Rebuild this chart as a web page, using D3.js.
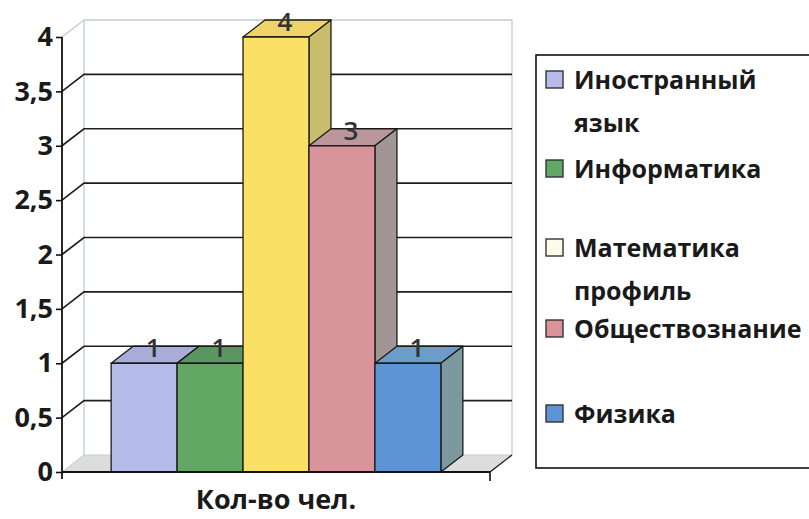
<!DOCTYPE html>
<html>
<head>
<meta charset="utf-8">
<script src="https://cdn.jsdelivr.net/npm/d3@7"></script>
<style>
  html, body { margin: 0; padding: 0; background: #fff; }
  svg { display: block; }
</style>
</head>
<body>
<svg id="chart" width="809" height="519"></svg>
<script>
// series shown as bars in one category group
const subjects = ["Иностранный язык", "Информатика", "Математика профиль", "Обществознание", "Физика"]
const counts = [1, 1, 4, 3, 1]
// legend text split into lines like the original
const legendLines = [["Иностранный", "язык"], ["Информатика"], ["Математика", "профиль"], ["Обществознание"], ["Физика"]]
const frontColors = ["#b6bce9", "#62a763", "#fbe066", "#d9949b", "#5d94d6"]
const topColors = ["#a7acd9", "#5a9760", "#eed468", "#bb979b", "#6c9cc8"]
const sideColors = ["#9aa0cc", "#4f8557", "#c9bd6b", "#a29596", "#7b999e"]
const legendColors = ["#b6bce9", "#62a763", "#fffbea", "#d9949b", "#5d94d6"]
const yTicks = [0, 0.5, 1, 1.5, 2, 2.5, 3, 3.5, 4]
const categoryLabel = "Кол-во чел."

const font = "'Open Sans', 'DejaVu Sans', sans-serif"
const svg = d3.select("#chart")

// depth offset of the 3d box
const dx = 22, dy = -17
const x0 = 62, x1 = 490

const y = d3.scaleLinear().domain([0, 4]).range([472, 37])
const x = d3.scaleBand().domain(subjects).range([x0, x1]).paddingInner(0).paddingOuter(0.745)

const fmt = (v) => String(v).replace(".", ",")

// floor
svg.append("path")
  .attr("d", `M${x0},${y(0)} L${x1},${y(0)} L${x1 + dx},${y(0) + dy} L${x0 + dx},${y(0) + dy} Z`)
  .attr("fill", "#dcdedd")
  .attr("stroke", "#c8cac9")
  .attr("stroke-width", 1)

// back wall outline (light)
svg.append("path")
  .attr("d", `M${x0 + dx},${y(0) + dy} L${x0 + dx},${y(4) + dy} L${x1 + dx},${y(4) + dy} L${x1 + dx},${y(0) + dy}`)
  .attr("fill", "none")
  .attr("stroke", "#c4cbd2")
  .attr("stroke-width", 1.3)
svg.append("line")
  .attr("x1", x0).attr("y1", y(4)).attr("x2", x0 + dx).attr("y2", y(4) + dy)
  .attr("stroke", "#c4cbd2").attr("stroke-width", 1.3)

// gridlines: side wall diagonal + back wall
const grid = svg.append("g").attr("stroke", "#1e1e1e").attr("stroke-width", 1.6).attr("fill", "none")
yTicks.filter((t) => t > 0 && t < 4).forEach((t) => {
  grid.append("path")
    .attr("d", `M${x0},${y(t)} L${x0 + dx},${y(t) + dy} L${x1 + dx},${y(t) + dy}`)
})

// floor right edge
svg.append("line")
  .attr("x1", x1).attr("y1", y(0)).attr("x2", x1 + dx).attr("y2", y(0) + dy)
  .attr("stroke", "#1e1e1e").attr("stroke-width", 1.3)

// bars, left to right so each front face covers the previous side face
const bars = svg.append("g").attr("stroke", "#1a1a1a").attr("stroke-width", 1.3).attr("stroke-linejoin", "round")
subjects.forEach((s, i) => {
  const l = x(s), r = x(s) + x.bandwidth()
  const t = y(counts[i]), b = y(0)
  const g = bars.append("g")
  g.append("path")
    .attr("d", `M${l},${t} L${l + dx},${t + dy} L${r + dx},${t + dy} L${r},${t} Z`)
    .attr("fill", topColors[i])
  g.append("path")
    .attr("d", `M${r},${t} L${r + dx},${t + dy} L${r + dx},${b + dy} L${r},${b} Z`)
    .attr("fill", sideColors[i])
  g.append("rect")
    .attr("x", l).attr("y", t).attr("width", r - l).attr("height", b - t)
    .attr("fill", frontColors[i])
})

// data labels
svg.append("g")
  .selectAll("text")
  .data(subjects)
  .join("text")
  .attr("x", (s) => x(s) + x.bandwidth() / 2 + dx / 2 - 2)
  .attr("y", (s, i) => y(counts[i]) - 6)
  .attr("text-anchor", "middle")
  .attr("font-family", font)
  .attr("font-size", 26)
  .attr("font-weight", 600)
  .attr("fill", "#333")
  .text((s, i) => counts[i])

// front baseline
svg.append("line")
  .attr("x1", x0).attr("y1", y(0)).attr("x2", x1).attr("y2", y(0))
  .attr("stroke", "#111").attr("stroke-width", 1.8)
svg.append("line")
  .attr("x1", x1).attr("y1", y(0)).attr("x2", x1).attr("y2", y(0) + 9)
  .attr("stroke", "#111").attr("stroke-width", 1.6)

// y axis
const yAxis = svg.append("g")
  .attr("transform", `translate(${x0},0)`)
  .call(d3.axisLeft(y).tickValues(yTicks).tickFormat(fmt).tickSize(6).tickPadding(3).tickSizeOuter(0))
yAxis.select(".domain").attr("stroke", "#111").attr("stroke-width", 1.8)
  .attr("d", `M0,${y(4)}V${y(0) + 7}`)
yAxis.selectAll(".tick line").attr("stroke", "#111").attr("stroke-width", 1.6)
yAxis.selectAll("text")
  .attr("font-family", font)
  .attr("font-size", 27)
  .attr("font-weight", 700)
  .attr("fill", "#1a1a1a")

// category label
svg.append("text")
  .attr("x", 276).attr("y", 509)
  .attr("text-anchor", "middle")
  .attr("font-family", font)
  .attr("font-size", 27)
  .attr("font-weight", 700)
  .attr("fill", "#1a1a1a")
  .text(categoryLabel)

// legend box runs off the right edge like in the picture
svg.append("rect")
  .attr("x", 536).attr("y", 55).attr("width", 300).attr("height", 413)
  .attr("fill", "#fff").attr("stroke", "#111").attr("stroke-width", 1.6)

const legendY = [79, 168, 247, 328, 413]
const lg = svg.append("g")
legendLines.forEach((lines, i) => {
  const cy = legendY[i]
  lg.append("rect")
    .attr("x", 546).attr("y", cy - 8).attr("width", 17).attr("height", 17)
    .attr("fill", legendColors[i]).attr("stroke", "#333").attr("stroke-width", 1.4)
  lines.forEach((line, j) => {
    lg.append("text")
      .attr("x", 574).attr("y", cy + 10 + j * 43)
      .attr("font-family", font)
      .attr("font-size", 25)
      .attr("font-weight", 700)
      .attr("fill", "#1a1a1a")
      .text(line)
  })
})
</script>
</body>
</html>
